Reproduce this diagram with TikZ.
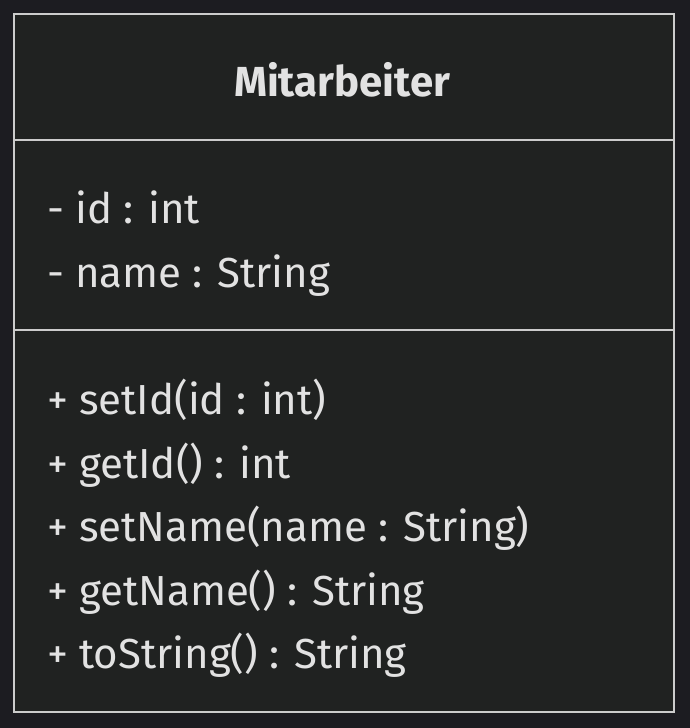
\documentclass[tikz,border=0pt]{standalone}
\usepackage{fontspec}
\setmainfont{Fira Sans}
\definecolor{pagebg}{HTML}{1C1C21}
\definecolor{boxbg}{HTML}{202221}
\definecolor{edge}{HTML}{CCCCCC}
\definecolor{txt}{HTML}{E2E2E2}
\begin{document}
\begin{tikzpicture}[x=1pt,y=-1pt,
  member/.style={anchor=base west,inner sep=0pt,text=txt,font=\fontsize{42}{48}\selectfont},
  title/.style={anchor=base,inner sep=0pt,text=txt,font=\fontsize{42}{48}\selectfont\bfseries}]
\fill[pagebg] (0,0) rectangle (690,728);
\useasboundingbox (0,0) rectangle (690,728);
\draw[edge,line width=2pt,fill=boxbg] (14,14) rectangle (674,712);
\draw[edge,line width=2pt] (14,140) -- (674,140);
\draw[edge,line width=2pt] (14,330) -- (674,330);
\node[title] (t) at (342,96) {Mitarbeiter};
\node[member] (a1) at (47,223) {- id : int};
\node[member] (a2) at (47,287) {- name : String};
\node[member] (m1) at (47,414) {+ setId(id : int)};
\node[member] (m2) at (47,478) {+ getId() : int};
\node[member] (m3) at (47,541) {+ setName(name : String)};
\node[member] (m4) at (47,605) {+ getName() : String};
\node[member] (m5) at (47,668) {+ toString() : String};
\end{tikzpicture}
\end{document}
